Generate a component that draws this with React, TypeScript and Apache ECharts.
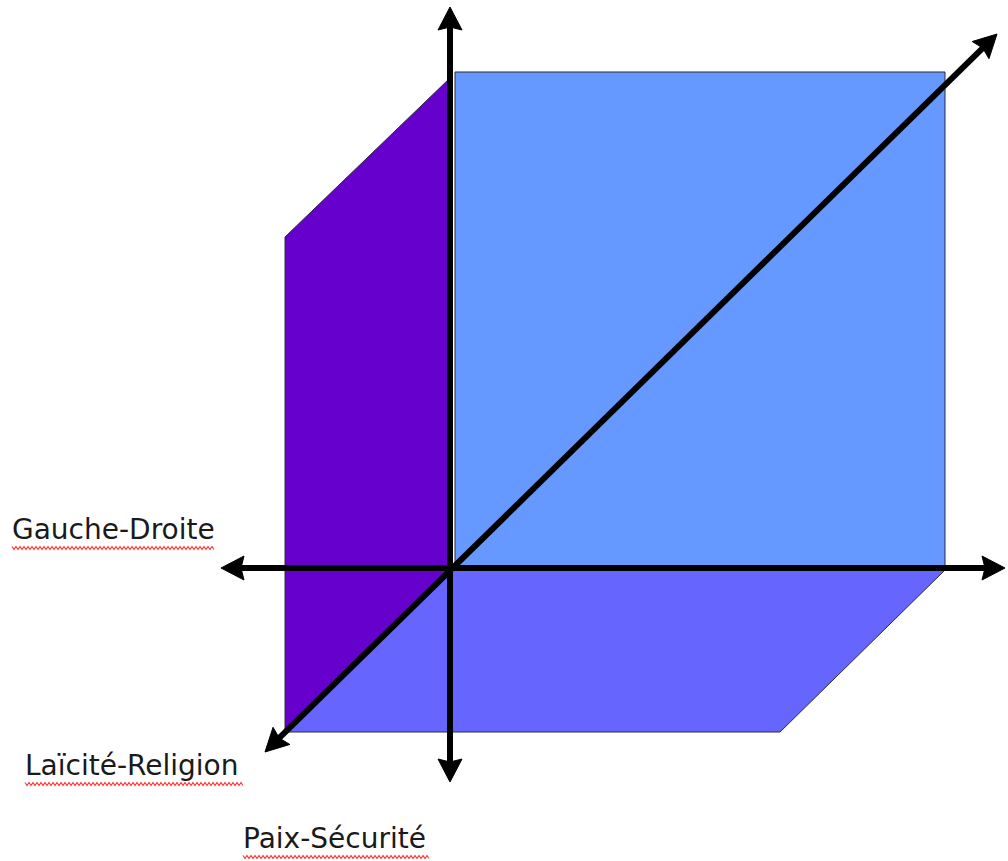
import React, { useEffect, useRef } from 'react';
import * as echarts from 'echarts';

// Cube faces (diagram units, origin at the axes' crossing, y up)
const FACE_NAMES = ['Face arrière', 'Face gauche', 'Face inférieure'];
const FACE_COLORS = ['#6699FF', '#6600CC', '#6666FF'];
const BACK_FACE = [[3, -2], [493, -2], [493, 496], [3, 496]];
const LEFT_FACE = [[-167, 331], [-2, 490], [-2, -2], [-167, -164]];
const BOTTOM_FACE = [[-2, -2], [493, -2], [328, -164], [-167, -164]];
const FACES = [BACK_FACE, LEFT_FACE, BOTTOM_FACE];

// Axes (double-headed arrows)
const AXIS_NAMES = ['Paix-Sécurité', 'Gauche-Droite', 'Laïcité-Religion'];
const AXIS_STARTS = [[-2, -214], [-231, 0], [-187, -184]];
const AXIS_ENDS = [[-2, 561], [553, 0], [545, 534]];

// Labels
const LABELS = ['Gauche-Droite', 'Laïcité-Religion', 'Paix-Sécurité'];
const LABEL_X = [12, 25, 243];
const LABEL_BASELINE = [541, 777, 850];
const UNDERLINE_END = [214, 244, 429];

function zigzag(x0: number, x1: number, y: number) {
  const pts: number[][] = [];
  let up = true;
  for (let x = x0; x <= x1; x += 2) {
    pts.push([x, up ? y - 1.5 : y + 1.5]);
    up = !up;
  }
  return pts;
}

export default function App() {
  const ref = useRef<HTMLDivElement>(null);
  useEffect(() => {
    if (!ref.current) return;
    const chart = echarts.init(ref.current, null, { renderer: 'svg' });

    const graphics: any[] = [];
    LABELS.forEach((t, i) => {
      graphics.push({
        type: 'text',
        x: LABEL_X[i],
        y: LABEL_BASELINE[i] - 25.5,
        z: 10,
        style: {
          text: t,
          font: '28px "DejaVu Sans"',
          fill: '#1a1a1a',
        },
      });
      graphics.push({
        type: 'polyline',
        z: 10,
        shape: { points: zigzag(LABEL_X[i], UNDERLINE_END[i], LABEL_BASELINE[i] + 7) },
        style: { stroke: '#ff3b3b', lineWidth: 1.2, fill: 'none' },
      });
    });

    chart.setOption({
      animation: false,
      backgroundColor: '#ffffff',
      grid: { left: 0, right: 0, top: 0, bottom: 0 },
      xAxis: { type: 'value', min: -452, max: 556, show: false },
      yAxis: { type: 'value', min: -293, max: 568, show: false },
      series: [
        {
          type: 'custom',
          name: 'faces',
          coordinateSystem: 'cartesian2d',
          z: 1,
          data: FACE_NAMES.map((n, i) => ({ name: n, value: [i] })),
          renderItem: (params: any, api: any) => {
            const i = params.dataIndex;
            const pts = FACES[i].map((p) => api.coord(p));
            return {
              type: 'polygon',
              shape: { points: pts },
              style: { fill: FACE_COLORS[i], stroke: '#2a2a3a', lineWidth: 1 },
            };
          },
        },
        {
          type: 'custom',
          name: 'axes',
          coordinateSystem: 'cartesian2d',
          z: 2,
          data: AXIS_NAMES.map((n, i) => ({ name: n, value: [i] })),
          renderItem: (params: any, api: any) => {
            const i = params.dataIndex;
            const p0 = api.coord(AXIS_STARTS[i]);
            const p1 = api.coord(AXIS_ENDS[i]);
            const dx = p1[0] - p0[0];
            const dy = p1[1] - p0[1];
            const len = Math.sqrt(dx * dx + dy * dy);
            const ux = dx / len;
            const uy = dy / len;
            const nx = -uy;
            const ny = ux;
            const L = 23;
            const W = 12;
            const head = (tip: number[], sx: number, sy: number) => {
              const bx = tip[0] - sx * L;
              const by = tip[1] - sy * L;
              return {
                type: 'polygon',
                shape: {
                  points: [
                    tip,
                    [bx + nx * W, by + ny * W],
                    [bx + sx * 3, by + sy * 3],
                    [bx - nx * W, by - ny * W],
                  ],
                },
                style: { fill: '#000000', stroke: '#000000', lineWidth: 1 },
              };
            };
            return {
              type: 'group',
              children: [
                {
                  type: 'line',
                  shape: {
                    x1: p0[0] + ux * (L - 4),
                    y1: p0[1] + uy * (L - 4),
                    x2: p1[0] - ux * (L - 4),
                    y2: p1[1] - uy * (L - 4),
                  },
                  style: { stroke: '#000000', lineWidth: 6 },
                },
                head(p1, ux, uy),
                head(p0, -ux, -uy),
              ],
            };
          },
        },
      ],
      graphic: graphics,
    });
    return () => chart.dispose();
  }, []);
  return (
    <div
      ref={ref}
      style={{ position: 'absolute', left: 0, top: 0, width: 1008, height: 861 }}
    />
  );
}
